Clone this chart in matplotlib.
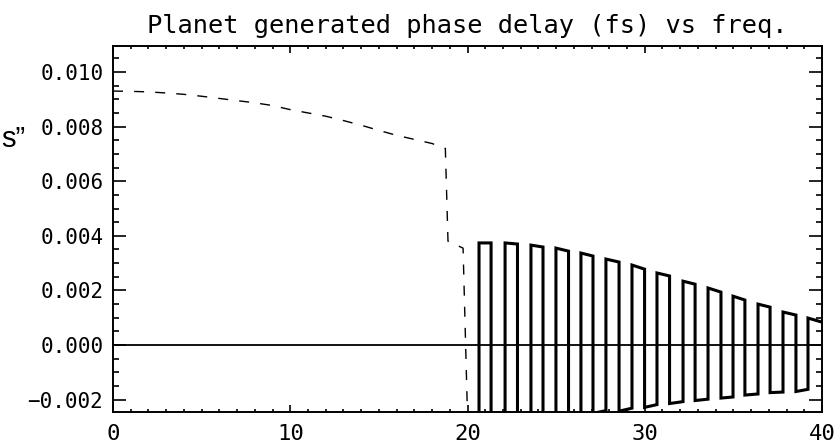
import numpy as np
import matplotlib
matplotlib.use("Agg")
import matplotlib.pyplot as plt
from matplotlib.ticker import MultipleLocator, FuncFormatter

plt.rcParams['font.family'] = ['DejaVu Sans Mono', 'DejaVu Sans']
plt.rcParams['lines.scale_dashes'] = False

# ---- data ----
title = "Planet generated phase delay (fs) vs freq."
side_text = "s\u201d"

x_ticks = [0, 10, 20, 30, 40]
y_ticks = [-0.002, 0.000, 0.002, 0.004, 0.006, 0.008, 0.010]

# dashed curve
dash_x = [0, 1, 2, 3, 4, 5, 6, 7, 8, 9, 10, 11, 12, 13, 14, 15, 16, 17, 18,
          18.75, 18.9, 19.75, 20.0]
dash_y = [0.0093, 0.00929, 0.00927, 0.00923, 0.00918, 0.00911, 0.00903, 0.00895,
          0.00887, 0.00877, 0.00862, 0.00850, 0.00838, 0.00822, 0.00805, 0.00786,
          0.00768, 0.00753, 0.00738, 0.00720, 0.00380, 0.00355, -0.0026]

# thick oscillating curve: rising edges, falling edges, high and low levels
rise_x = [20.65, 22.12, 23.58, 24.99, 26.40, 27.81, 29.28, 30.69, 32.16, 33.57,
          34.98, 36.39, 37.80, 39.21]
fall_x = [21.33, 22.82, 24.26, 25.70, 27.08, 28.55, 29.99, 31.40, 32.84, 34.30,
          35.65, 37.07, 38.53, 40.0]
high_start = [0.00374, 0.00374, 0.00366, 0.00355, 0.00337, 0.00315, 0.00293,
              0.00264, 0.00234, 0.00209, 0.00179, 0.00150, 0.00121, 0.00099]
high_end = [0.00374, 0.00370, 0.00359, 0.00344, 0.00326, 0.00304, 0.00278,
            0.00253, 0.00223, 0.00194, 0.00165, 0.00139, 0.00110, 0.00084]
low_start = [-0.0029, -0.0028, -0.0027, -0.0026, -0.0025, -0.00242, -0.00228,
             -0.00214, -0.00203, -0.00194, -0.00183, -0.00174, -0.00170]
low_end = [-0.0028, -0.0027, -0.0026, -0.0025, -0.0024, -0.00231, -0.00218,
           -0.00207, -0.00198, -0.00190, -0.00179, -0.00172, -0.00162]
start_level = -0.0030

# ---- build the oscillating path from the arrays ----
sx, sy = [rise_x[0]], [start_level]
for k in range(len(rise_x)):
    sx += [rise_x[k], fall_x[k]]
    sy += [high_start[k], high_end[k]]
    if k < len(low_start):
        sx += [fall_x[k], rise_x[k + 1]]
        sy += [low_start[k], low_end[k]]

# ---- figure ----
W, H = 838, 444
fig = plt.figure(figsize=(W / 100, H / 100), dpi=100)
ax = fig.add_axes([113 / W, 1 - 412 / H, (822 - 113) / W, (412 - 46) / H])

ax.axhline(0, color='black', lw=1.3, zorder=2)
ax.plot(dash_x, dash_y, color='black', lw=1.0, dashes=(7.2, 8.0), zorder=3)
ax.plot(sx, sy, color='black', lw=2.2, solid_joinstyle='miter', zorder=4)

ax.set_xlim(0, 40)
ax.set_ylim(-0.00245, 0.01095)
ax.set_xticks(x_ticks)
ax.set_yticks(y_ticks)
ax.xaxis.set_minor_locator(MultipleLocator(1))
ax.yaxis.set_minor_locator(MultipleLocator(0.0005))
ax.yaxis.set_major_formatter(FuncFormatter(lambda v, p: f"{v:.3f}".replace('-', '\u2212')))
ax.xaxis.set_major_formatter(FuncFormatter(lambda v, p: f"{v:g}"))

ax.tick_params(axis='both', which='both', direction='in', top=True, right=True,
               color='black', width=1.2)
ax.tick_params(axis='y', which='major', length=9.4, pad=7, labelsize=15)
ax.tick_params(axis='y', which='minor', length=4.3)
ax.tick_params(axis='x', which='major', length=4.8, pad=8.5, labelsize=16)
ax.tick_params(axis='x', which='minor', length=2.0)
for s in ax.spines.values():
    s.set_linewidth(1.4)
    s.set_color('black')

fig.text(467.5 / W, 1 - 33 / H, title, ha='center', va='baseline', fontsize=18.3)
fig.text(0.001, 1 - 147 / H, side_text, ha='left', va='baseline', fontsize=21,
         family=['Liberation Sans'])

fig.savefig("out.png", dpi=100)
